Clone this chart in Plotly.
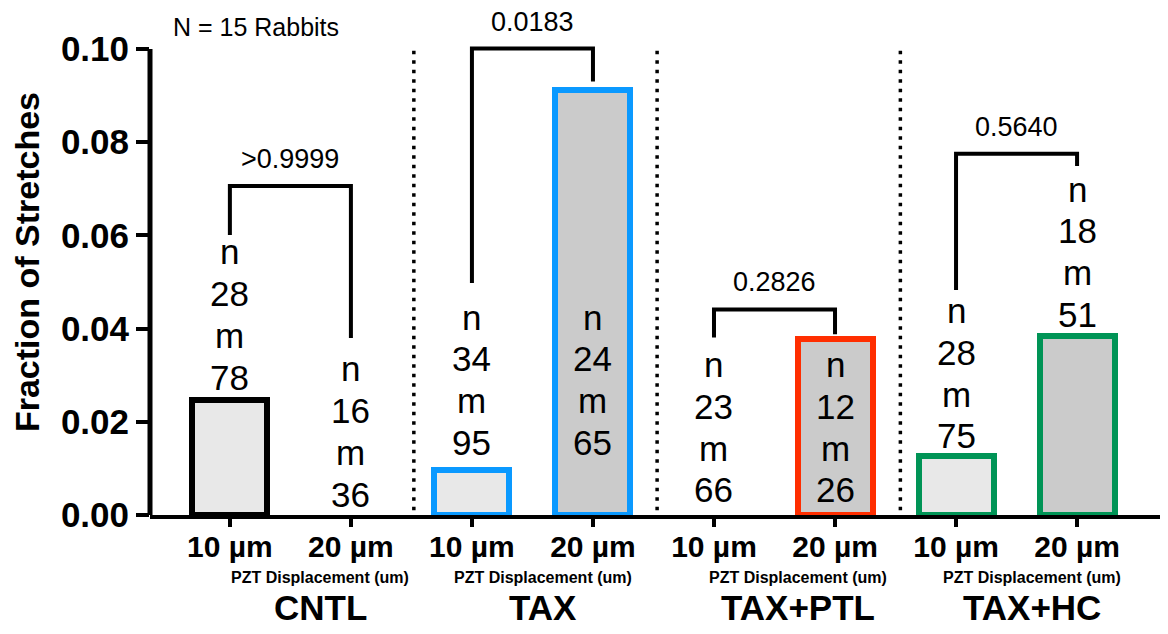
import plotly.graph_objects as go

# ---------------- data ----------------
groups = ["CNTL", "TAX", "TAX+PTL", "TAX+HC"]
displacements = ["10 µm", "20 µm"]
fraction = [0.0247, 0.0, 0.0096, 0.0912, 0.0, 0.0378, 0.0126, 0.0384]
n_counts = [28, 16, 34, 24, 23, 12, 28, 18]
m_counts = [78, 36, 95, 65, 66, 26, 75, 51]
p_values = [">0.9999", "0.0183", "0.2826", "0.5640"]
subject_note = "N = 15 Rabbits"
axis_sub_title = "PZT Displacement (um)"
y_title = "Fraction of Stretches"
y_ticks = [0.0, 0.02, 0.04, 0.06, 0.08, 0.10]
y_ticktext = ["0.00", "0.02", "0.04", "0.06", "0.08", "0.10"]

# ---------------- layout helpers (annotation placement, data units) ----------------
label_y = [0.0296, 0.0045, 0.0156, 0.0156, 0.0054, 0.0054, 0.0170, 0.0431]
bracket_top = [0.0706, 0.1001, 0.0441, 0.0775]
bracket_left_end = [0.0601, 0.0498, 0.0381, 0.0483]
bracket_right_end = [0.0380, 0.0930, 0.0388, 0.0749]
group_label_shift = [30, 11, 23, 15]
separators = [1.52, 3.53, 5.54]

edge_colors = ["#000000", "#0A99FF", "#FF2E00", "#009456"]
fill_colors = ["#E8E8E8", "#CBCBCB"]

FONT = "Liberation Sans, Arial, Helvetica, sans-serif"

positions = list(range(len(fraction)))
bar_line = [edge_colors[i // 2] for i in positions]
bar_fill = [fill_colors[i % 2] for i in positions]
bar_line_w = [6 if v > 0 else 0 for v in fraction]

fig = go.Figure()
fig.add_trace(go.Bar(
    x=positions, y=fraction, width=0.62,
    marker=dict(color=bar_fill, line=dict(color=bar_line, width=bar_line_w)),
    hoverinfo="skip", showlegend=False,
))

annotations = []
shapes = []

# n / m labels (one annotation per line)
LINE = 41.7
for i in positions:
    lines = ["n", str(n_counts[i]), "m", str(m_counts[i])]
    for k, t in enumerate(lines):
        annotations.append(dict(
            x=i, y=label_y[i], xref="x", yref="y", text=t, showarrow=False,
            yanchor="middle", xanchor="center", yshift=(3 - k) * LINE,
            font=dict(family=FONT, size=35, color="black"),
        ))

# brackets + p-values
for g in range(len(groups)):
    x0, x1 = 2 * g, 2 * g + 1
    shapes.append(dict(
        type="path", xref="x", yref="y",
        path=f"M {x0},{bracket_left_end[g]} L {x0},{bracket_top[g]} "
             f"L {x1},{bracket_top[g]} L {x1},{bracket_right_end[g]}",
        line=dict(color="black", width=4),
    ))
    annotations.append(dict(
        x=(x0 + x1) / 2, y=bracket_top[g], xref="x", yref="y", text=p_values[g],
        showarrow=False, yanchor="middle", yshift=27,
        font=dict(family=FONT, size=27, color="black"),
    ))
    # sub axis title & group name
    annotations.append(dict(
        x=(x0 + x1) / 2, y=0, xref="x", yref="paper", text=f"<b>{axis_sub_title}</b>",
        showarrow=False, yanchor="middle", yshift=-62, xshift=group_label_shift[g],
        font=dict(family=FONT, size=16, color="black"),
    ))
    annotations.append(dict(
        x=(x0 + x1) / 2, y=0, xref="x", yref="paper", text=f"<b>{groups[g]}</b>",
        showarrow=False, yanchor="middle", yshift=-92, xshift=group_label_shift[g],
        font=dict(family=FONT, size=35, color="black"),
    ))

# dotted separators
for s in separators:
    shapes.append(dict(
        type="line", xref="x", yref="y", x0=s, x1=s, y0=0.001, y1=0.1,
        line=dict(color="black", width=3.5, dash="3.5px,6px"),
    ))

# y axis line (ends at 0.10)
shapes.append(dict(type="line", xref="paper", yref="y", x0=0, x1=0, y0=0, y1=0.1,
                   line=dict(color="black", width=5)))

annotations.append(dict(
    x=0.215, y=0.1047, xref="x", yref="y", text=subject_note, showarrow=False,
    yanchor="middle", font=dict(family=FONT, size=25, color="black"),
))

fig.update_layout(
    width=1168, height=634,
    margin=dict(l=142, r=13, t=1, b=127, autoexpand=False),
    paper_bgcolor="white", plot_bgcolor="white",
    font=dict(family=FONT, color="black"),
    bargap=0,
    annotations=annotations, shapes=shapes,
    xaxis=dict(
        range=[-0.66, 7.71], tickvals=positions,
        ticktext=[displacements[i % 2] for i in positions],
        showline=True, linecolor="black", linewidth=4,
        ticks="outside", ticklen=8, tickwidth=4, tickcolor="black",
        tickfont=dict(family=FONT, size=30, color="black", weight="bold"),
        ticklabelstandoff=-6,
        showgrid=False, zeroline=False, automargin=False,
    ),
    yaxis=dict(
        range=[0, 0.10858], tickvals=y_ticks, ticktext=y_ticktext,
        showline=False, ticks="outside", ticklen=13, tickwidth=4, tickcolor="black",
        tickfont=dict(family=FONT, size=35, color="black", weight="bold"),
        showgrid=False, zeroline=False, automargin=False,
        title=dict(text=f"<b>{y_title}</b>", standoff=10,
                   font=dict(family=FONT, size=34, color="black")),
    ),
)

fig.write_html("out.html")
